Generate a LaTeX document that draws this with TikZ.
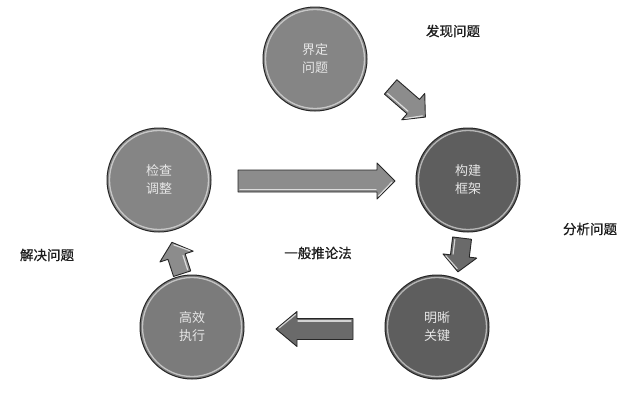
\documentclass[tikz,border=0pt]{standalone}
\usepackage{fontspec}
\newfontfamily\cjk{Noto Sans CJK SC}
\newfontfamily\cjkb[FakeBold=0.8]{Noto Sans CJK SC}
\definecolor{cA}{HTML}{858585}
\definecolor{cB}{HTML}{5E5E5E}
\definecolor{cC}{HTML}{7B7B7B}
\definecolor{txtdark}{HTML}{1E1E1E}
\definecolor{txtlight}{HTML}{E6E6E6}
\definecolor{arrA}{HTML}{8C8C8C}
\definecolor{arrB}{HTML}{6A6A6A}
\tikzset{
  ball/.style={circle, minimum size=104pt, inner sep=0pt, draw=black!85, line width=1pt,
    text=txtlight, font=\cjk\fontsize{13}{18}\selectfont, align=center},
  ring/.style={draw=white, draw opacity=0.55, line width=1.3pt},
  lbl/.style={text=txtdark, font=\cjkb\fontsize{13.5}{16}\selectfont, inner sep=0pt},
  arrbody/.style={draw=black!85, line width=0.9pt, line join=round},
  arrhl/.style={draw=white, draw opacity=0.7, line width=1.2pt, line cap=round}
}
% \barrow{x}{y}{angle}{len}{shaft}{head}{headlen}{colour}
\newcommand\barrow[8]{%
  \begin{scope}[shift={(#1,#2)}, rotate=#3]
    \pgfmathsetmacro\hl{#4/2}
    \pgfmathsetmacro\hs{#5/2}
    \pgfmathsetmacro\hh{#6/2}
    \pgfmathsetmacro\hb{#4/2-#7}
    \filldraw[arrbody, fill=#8]
      (-\hl,-\hs) -- (\hb,-\hs) -- (\hb,-\hh) -- (\hl,0) -- (\hb,\hh) -- (\hb,\hs) -- (-\hl,\hs) -- cycle;
    \draw[arrhl] (-\hl+2,\hs-2.5) -- (\hb-1,\hs-2.5);
    \draw[arrhl] (\hb+1.5,\hh-3) -- (\hl-3,1);
  \end{scope}}
\begin{document}
\begin{tikzpicture}[x=1pt,y=-1pt]
\useasboundingbox[fill=white] (0,0) rectangle (627,400);
% balls
\node[ball, fill=cA] (c1) at (315,59) {界定\\问题};
\node[ball, fill=cB] (c2) at (468,180) {构建\\框架};
\node[ball, fill=cB] (c3) at (437,327) {明晰\\关键};
\node[ball, fill=cC] (c4) at (192,327) {高效\\执行};
\node[ball, fill=cA] (c5) at (159,180) {检查\\调整};
\foreach \n in {c1,c2,c3,c4,c5}{\draw[ring] (\n.center) circle[radius=49.5pt];}
% arrows
\barrow{408}{102}{-41}{46}{19}{35}{16}{arrA}
\barrow{316.5}{181}{0}{157}{22}{36}{18}{arrA}
\barrow{460}{255}{-97}{34}{19}{34}{16}{arrB}
\barrow{314.5}{329}{180}{77}{21}{35}{21}{arrB}
\barrow{177}{258}{108}{33}{18}{35}{15}{arrA}
% labels
\node[lbl] (t1) at (453,31) {发现问题};
\node[lbl] (t2) at (590,229) {分析问题};
\node[lbl] (t3) at (47,255) {解决问题};
\node[lbl] (t4) at (318,253) {一般推论法};
\end{tikzpicture}
\end{document}
